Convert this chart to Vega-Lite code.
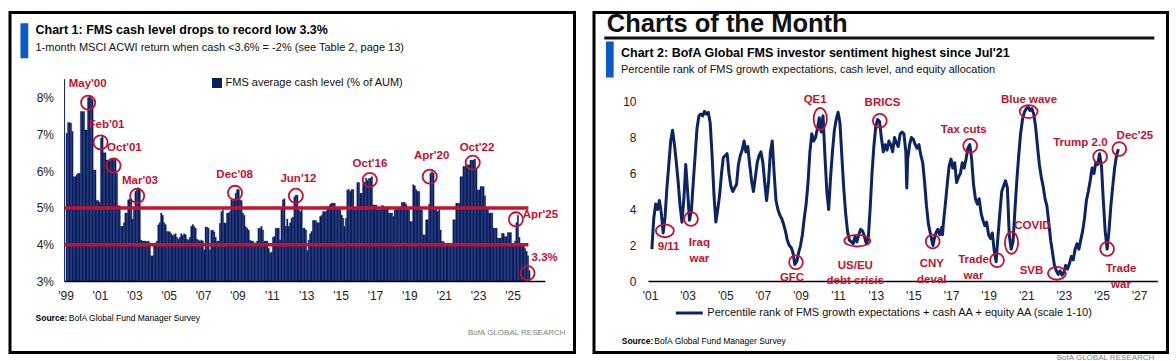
{
  "$schema": "https://vega.github.io/schema/vega-lite/v6.json",
  "background": "white",
  "padding": {"left": 8, "top": 9.5, "right": 0, "bottom": 0},
  "spacing": 19,
  "bounds": "flush",
  "resolve": {"scale": {"color": "independent"}, "legend": {"color": "independent"}},
  "config": {
    "view": {"stroke": "#000", "strokeWidth": 3},
    "axis": {"grid": false, "ticks": false, "domain": false, "labelFont": "Liberation Sans, Arial, sans-serif", "labelFontSize": 12, "labelColor": "#222"},
    "legend": {"labelFont": "Liberation Sans, Arial, sans-serif", "labelFontSize": 11, "labelColor": "#111", "labelLimit": 600},
    "text": {"font": "Liberation Sans, Arial, sans-serif"}
  },
  "datasets": {
    "cash": [
      {"d":"1999-01","v":7.03},{"d":"1999-02","v":7.32},{"d":"1999-03","v":7.32},{"d":"1999-04","v":7.3},{"d":"1999-05","v":7.08},{"d":"1999-06","v":5.85},{"d":"1999-07","v":5.85},{"d":"1999-08","v":5.9},{"d":"1999-09","v":5.94},{"d":"1999-10","v":5.94},{"d":"1999-11","v":7.62},{"d":"1999-12","v":7.62},
      {"d":"2000-01","v":7.62},{"d":"2000-02","v":7.12},{"d":"2000-03","v":7.12},{"d":"2000-04","v":8.0},{"d":"2000-05","v":8.05},{"d":"2000-06","v":8.0},{"d":"2000-07","v":7.95},{"d":"2000-08","v":6.03},{"d":"2000-09","v":6.03},{"d":"2000-10","v":5.2},{"d":"2000-11","v":5.2},{"d":"2000-12","v":5.15},
      {"d":"2001-01","v":6.9},{"d":"2001-02","v":6.95},{"d":"2001-03","v":6.5},{"d":"2001-04","v":6.5},{"d":"2001-05","v":6.3},{"d":"2001-06","v":6.3},{"d":"2001-07","v":6.28},{"d":"2001-08","v":6.3},{"d":"2001-09","v":6.32},{"d":"2001-10","v":6.35},{"d":"2001-11","v":6.3},{"d":"2001-12","v":5.94},
      {"d":"2002-01","v":5.06},{"d":"2002-02","v":5.06},{"d":"2002-03","v":4.5},{"d":"2002-04","v":4.5},{"d":"2002-05","v":4.6},{"d":"2002-06","v":4.86},{"d":"2002-07","v":4.86},{"d":"2002-08","v":5.22},{"d":"2002-09","v":5.25},{"d":"2002-10","v":5.22},{"d":"2002-11","v":4.7},{"d":"2002-12","v":4.95},
      {"d":"2003-01","v":5.45},{"d":"2003-02","v":5.5},{"d":"2003-03","v":5.55},{"d":"2003-04","v":5.5},{"d":"2003-05","v":4.13},{"d":"2003-06","v":4.1},{"d":"2003-07","v":4.1},{"d":"2003-08","v":4.1},{"d":"2003-09","v":4.08},{"d":"2003-10","v":4.1},{"d":"2003-11","v":4.05},{"d":"2003-12","v":3.7},
      {"d":"2004-01","v":3.7},{"d":"2004-02","v":4.0},{"d":"2004-03","v":4.05},{"d":"2004-04","v":4.1},{"d":"2004-05","v":4.54},{"d":"2004-06","v":4.6},{"d":"2004-07","v":4.86},{"d":"2004-08","v":4.8},{"d":"2004-09","v":4.6},{"d":"2004-10","v":4.55},{"d":"2004-11","v":4.36},{"d":"2004-12","v":4.36},
      {"d":"2005-01","v":4.35},{"d":"2005-02","v":4.3},{"d":"2005-03","v":4.25},{"d":"2005-04","v":4.27},{"d":"2005-05","v":4.3},{"d":"2005-06","v":4.2},{"d":"2005-07","v":4.15},{"d":"2005-08","v":4.2},{"d":"2005-09","v":4.3},{"d":"2005-10","v":4.25},{"d":"2005-11","v":4.3},{"d":"2005-12","v":4.27},
      {"d":"2006-01","v":4.15},{"d":"2006-02","v":4.13},{"d":"2006-03","v":4.2},{"d":"2006-04","v":4.5},{"d":"2006-05","v":4.55},{"d":"2006-06","v":4.5},{"d":"2006-07","v":4.45},{"d":"2006-08","v":4.15},{"d":"2006-09","v":4.13},{"d":"2006-10","v":4.1},{"d":"2006-11","v":4.13},{"d":"2006-12","v":4.1},
      {"d":"2007-01","v":3.86},{"d":"2007-02","v":4.48},{"d":"2007-03","v":4.48},{"d":"2007-04","v":4.45},{"d":"2007-05","v":3.86},{"d":"2007-06","v":4.39},{"d":"2007-07","v":4.4},{"d":"2007-08","v":4.35},{"d":"2007-09","v":4.2},{"d":"2007-10","v":4.09},{"d":"2007-11","v":4.1},{"d":"2007-12","v":4.58},
      {"d":"2008-01","v":4.9},{"d":"2008-02","v":4.95},{"d":"2008-03","v":4.6},{"d":"2008-04","v":4.58},{"d":"2008-05","v":4.86},{"d":"2008-06","v":4.86},{"d":"2008-07","v":4.9},{"d":"2008-08","v":5.22},{"d":"2008-09","v":5.2},{"d":"2008-10","v":5.25},{"d":"2008-11","v":5.4},{"d":"2008-12","v":5.5},
      {"d":"2009-01","v":5.5},{"d":"2009-02","v":5.22},{"d":"2009-03","v":5.2},{"d":"2009-04","v":4.86},{"d":"2009-05","v":4.8},{"d":"2009-06","v":4.49},{"d":"2009-07","v":4.45},{"d":"2009-08","v":4.4},{"d":"2009-09","v":4.13},{"d":"2009-10","v":4.1},{"d":"2009-11","v":4.1},{"d":"2009-12","v":4.05},
      {"d":"2010-01","v":4.05},{"d":"2010-02","v":4.1},{"d":"2010-03","v":4.45},{"d":"2010-04","v":4.45},{"d":"2010-05","v":4.5},{"d":"2010-06","v":4.4},{"d":"2010-07","v":4.1},{"d":"2010-08","v":4.1},{"d":"2010-09","v":4.1},{"d":"2010-10","v":3.9},{"d":"2010-11","v":3.78},{"d":"2010-12","v":3.8},
      {"d":"2011-01","v":4.2},{"d":"2011-02","v":4.22},{"d":"2011-03","v":4.45},{"d":"2011-04","v":4.45},{"d":"2011-05","v":4.45},{"d":"2011-06","v":4.13},{"d":"2011-07","v":5.0},{"d":"2011-08","v":5.22},{"d":"2011-09","v":5.25},{"d":"2011-10","v":4.5},{"d":"2011-11","v":4.7},{"d":"2011-12","v":4.5},
      {"d":"2012-01","v":4.6},{"d":"2012-02","v":4.72},{"d":"2012-03","v":4.75},{"d":"2012-04","v":5.3},{"d":"2012-05","v":5.35},{"d":"2012-06","v":5.35},{"d":"2012-07","v":4.95},{"d":"2012-08","v":4.9},{"d":"2012-09","v":4.95},{"d":"2012-10","v":4.45},{"d":"2012-11","v":4.45},{"d":"2012-12","v":4.4},
      {"d":"2013-01","v":3.85},{"d":"2013-02","v":4.13},{"d":"2013-03","v":4.3},{"d":"2013-04","v":4.36},{"d":"2013-05","v":4.66},{"d":"2013-06","v":4.66},{"d":"2013-07","v":4.66},{"d":"2013-08","v":4.6},{"d":"2013-09","v":4.6},{"d":"2013-10","v":4.77},{"d":"2013-11","v":4.8},{"d":"2013-12","v":4.9},
      {"d":"2014-01","v":4.9},{"d":"2014-02","v":4.9},{"d":"2014-03","v":5.04},{"d":"2014-04","v":5.04},{"d":"2014-05","v":5.1},{"d":"2014-06","v":5.13},{"d":"2014-07","v":5.13},{"d":"2014-08","v":5.13},{"d":"2014-09","v":5.0},{"d":"2014-10","v":4.99},{"d":"2014-11","v":4.95},{"d":"2014-12","v":5.0},
      {"d":"2015-01","v":4.8},{"d":"2015-02","v":4.72},{"d":"2015-03","v":4.5},{"d":"2015-04","v":4.72},{"d":"2015-05","v":5.49},{"d":"2015-06","v":5.5},{"d":"2015-07","v":5.45},{"d":"2015-08","v":5.5},{"d":"2015-09","v":5.5},{"d":"2015-10","v":4.95},{"d":"2015-11","v":4.95},{"d":"2015-12","v":5.69},
      {"d":"2016-01","v":5.69},{"d":"2016-02","v":5.4},{"d":"2016-03","v":5.4},{"d":"2016-04","v":5.67},{"d":"2016-05","v":5.7},{"d":"2016-06","v":5.81},{"d":"2016-07","v":5.75},{"d":"2016-08","v":5.8},{"d":"2016-09","v":5.81},{"d":"2016-10","v":5.85},{"d":"2016-11","v":5.08},{"d":"2016-12","v":5.08},
      {"d":"2017-01","v":5.08},{"d":"2017-02","v":4.95},{"d":"2017-03","v":4.95},{"d":"2017-04","v":4.95},{"d":"2017-05","v":5.06},{"d":"2017-06","v":5.06},{"d":"2017-07","v":4.97},{"d":"2017-08","v":4.97},{"d":"2017-09","v":4.97},{"d":"2017-10","v":4.86},{"d":"2017-11","v":4.86},{"d":"2017-12","v":4.86},
      {"d":"2018-01","v":4.77},{"d":"2018-02","v":4.95},{"d":"2018-03","v":4.95},{"d":"2018-04","v":5.0},{"d":"2018-05","v":5.0},{"d":"2018-06","v":5.0},{"d":"2018-07","v":5.15},{"d":"2018-08","v":5.15},{"d":"2018-09","v":5.15},{"d":"2018-10","v":5.1},{"d":"2018-11","v":4.95},{"d":"2018-12","v":4.95},
      {"d":"2019-01","v":4.63},{"d":"2019-02","v":4.63},{"d":"2019-03","v":5.63},{"d":"2019-04","v":5.6},{"d":"2019-05","v":5.5},{"d":"2019-06","v":5.45},{"d":"2019-07","v":5.45},{"d":"2019-08","v":4.95},{"d":"2019-09","v":4.95},{"d":"2019-10","v":4.27},{"d":"2019-11","v":4.27},{"d":"2019-12","v":4.68},
      {"d":"2020-01","v":4.68},{"d":"2020-02","v":5.1},{"d":"2020-03","v":5.94},{"d":"2020-04","v":5.99},{"d":"2020-05","v":5.95},{"d":"2020-06","v":4.95},{"d":"2020-07","v":4.95},{"d":"2020-08","v":4.9},{"d":"2020-09","v":4.95},{"d":"2020-10","v":4.4},{"d":"2020-11","v":4.09},{"d":"2020-12","v":4.09},
      {"d":"2021-01","v":4.04},{"d":"2021-02","v":4.04},{"d":"2021-03","v":4.04},{"d":"2021-04","v":4.04},{"d":"2021-05","v":4.04},{"d":"2021-06","v":4.04},{"d":"2021-07","v":4.68},{"d":"2021-08","v":4.68},{"d":"2021-09","v":5.13},{"d":"2021-10","v":5.13},{"d":"2021-11","v":5.13},{"d":"2021-12","v":5.85},
      {"d":"2022-01","v":5.85},{"d":"2022-02","v":6.13},{"d":"2022-03","v":6.13},{"d":"2022-04","v":6.17},{"d":"2022-05","v":6.17},{"d":"2022-06","v":6.17},{"d":"2022-07","v":6.3},{"d":"2022-08","v":6.3},{"d":"2022-09","v":6.3},{"d":"2022-10","v":6.33},{"d":"2022-11","v":6.08},{"d":"2022-12","v":5.49},
      {"d":"2023-01","v":5.49},{"d":"2023-02","v":5.58},{"d":"2023-03","v":5.58},{"d":"2023-04","v":5.58},{"d":"2023-05","v":5.33},{"d":"2023-06","v":4.99},{"d":"2023-07","v":4.99},{"d":"2023-08","v":4.86},{"d":"2023-09","v":4.86},{"d":"2023-10","v":4.86},{"d":"2023-11","v":4.45},{"d":"2023-12","v":4.45},
      {"d":"2024-01","v":4.45},{"d":"2024-02","v":4.18},{"d":"2024-03","v":4.18},{"d":"2024-04","v":4.18},{"d":"2024-05","v":4.31},{"d":"2024-06","v":4.31},{"d":"2024-07","v":4.22},{"d":"2024-08","v":4.22},{"d":"2024-09","v":4.33},{"d":"2024-10","v":4.33},{"d":"2024-11","v":4.33},{"d":"2024-12","v":4.04},
      {"d":"2025-01","v":4.04},{"d":"2025-02","v":4.1},{"d":"2025-03","v":4.6},{"d":"2025-04","v":4.8},{"d":"2025-05","v":4.2},{"d":"2025-06","v":4.04},{"d":"2025-07","v":3.99},{"d":"2025-08","v":3.99},{"d":"2025-09","v":3.9},{"d":"2025-10","v":3.82},{"d":"2025-11","v":3.7},{"d":"2025-12","v":3.3}
    ],
    "ann1": [
      {"label":"May'00","d":"2000-04-25","v":7.86,"ld":"2000-04-15","lv":8.38},
      {"label":"Feb'01","d":"2001-01-15","v":6.78,"ld":"2001-05-21","lv":7.24},
      {"label":"Oct'01","d":"2001-10-16","v":6.15,"ld":"2002-06-05","lv":6.64},
      {"label":"Mar'03","d":"2003-03-03","v":5.33,"ld":"2003-05-01","lv":5.74},
      {"label":"Dec'08","d":"2008-11-10","v":5.41,"ld":"2008-11-03","lv":5.9},
      {"label":"Jun'12","d":"2012-05-26","v":5.33,"ld":"2012-07-20","lv":5.79},
      {"label":"Oct'16","d":"2016-09-13","v":5.76,"ld":"2016-09-16","lv":6.2},
      {"label":"Apr'20","d":"2020-03-10","v":5.85,"ld":"2020-04-20","lv":6.4},
      {"label":"Oct'22","d":"2022-09-09","v":6.23,"ld":"2022-12-09","lv":6.64},
      {"label":"Apr'25","d":"2025-03-15","v":4.69,"ld":"2026-08-18","lv":4.81},
      {"label":"3.3%","d":"2025-11-17","v":3.23,"ld":"2026-11-17","lv":3.65}
    ],
    "sent": [
      {"d":"2001-02-06","v":1.8},{"d":"2001-03-14","v":3.5},{"d":"2001-04-20","v":4.3},{"d":"2001-05-27","v":4.0},{"d":"2001-07-02","v":4.5},{"d":"2001-08-08","v":3.8},{"d":"2001-09-13","v":2.7},{"d":"2001-10-20","v":3.6},{"d":"2001-11-25","v":5.2},
      {"d":"2002-01-01","v":6.5},{"d":"2002-02-06","v":7.8},{"d":"2002-03-14","v":8.4},{"d":"2002-04-20","v":7.6},{"d":"2002-05-27","v":6.6},{"d":"2002-07-02","v":5.5},{"d":"2002-08-08","v":4.2},{"d":"2002-09-13","v":3.3},{"d":"2002-10-20","v":4.6},{"d":"2002-11-25","v":6.5},
      {"d":"2003-01-01","v":5.0},{"d":"2003-02-06","v":3.4},{"d":"2003-03-14","v":3.9},{"d":"2003-04-20","v":5.5},{"d":"2003-05-27","v":7.0},{"d":"2003-07-02","v":8.5},{"d":"2003-08-08","v":9.2},{"d":"2003-09-13","v":9.3},{"d":"2003-10-20","v":9.2},{"d":"2003-11-25","v":9.45},
      {"d":"2004-01-01","v":9.3},{"d":"2004-02-06","v":9.4},{"d":"2004-03-14","v":8.8},{"d":"2004-04-20","v":7.0},{"d":"2004-05-27","v":4.8},{"d":"2004-07-02","v":3.3},{"d":"2004-08-08","v":4.0},{"d":"2004-09-13","v":4.8},{"d":"2004-10-20","v":6.0},{"d":"2004-11-25","v":6.9},
      {"d":"2005-01-01","v":7.0},{"d":"2005-02-06","v":7.1},{"d":"2005-03-14","v":6.0},{"d":"2005-04-20","v":5.3},{"d":"2005-05-27","v":5.0},{"d":"2005-07-02","v":5.2},{"d":"2005-08-08","v":5.4},{"d":"2005-09-13","v":6.5},{"d":"2005-10-20","v":7.0},{"d":"2005-11-25","v":7.3},
      {"d":"2006-01-01","v":7.8},{"d":"2006-02-06","v":7.2},{"d":"2006-03-14","v":7.5},{"d":"2006-04-20","v":6.5},{"d":"2006-05-27","v":5.6},{"d":"2006-07-02","v":5.0},{"d":"2006-08-08","v":5.8},{"d":"2006-09-13","v":6.6},{"d":"2006-10-20","v":7.0},{"d":"2006-11-25","v":7.2},
      {"d":"2007-01-01","v":6.6},{"d":"2007-02-06","v":5.5},{"d":"2007-03-14","v":4.5},{"d":"2007-04-20","v":5.5},{"d":"2007-05-27","v":7.2},{"d":"2007-07-02","v":7.8},{"d":"2007-08-08","v":6.0},{"d":"2007-09-13","v":4.5},{"d":"2007-10-20","v":4.0},{"d":"2007-11-25","v":3.7},
      {"d":"2008-01-01","v":3.5},{"d":"2008-02-06","v":3.2},{"d":"2008-03-14","v":2.8},{"d":"2008-04-20","v":2.3},{"d":"2008-05-27","v":2.0},{"d":"2008-07-02","v":1.9},{"d":"2008-08-08","v":1.6},{"d":"2008-09-13","v":0.95},{"d":"2008-10-20","v":1.1},{"d":"2008-11-25","v":1.6},
      {"d":"2009-01-01","v":2.0},{"d":"2009-02-06","v":2.6},{"d":"2009-03-14","v":3.5},{"d":"2009-04-20","v":4.3},{"d":"2009-05-27","v":5.5},{"d":"2009-07-02","v":7.2},{"d":"2009-08-08","v":8.2},{"d":"2009-09-13","v":7.8},{"d":"2009-10-20","v":8.0},{"d":"2009-11-25","v":8.5},
      {"d":"2010-01-01","v":9.1},{"d":"2010-02-06","v":8.3},{"d":"2010-03-14","v":9.2},{"d":"2010-04-20","v":7.0},{"d":"2010-05-27","v":5.0},{"d":"2010-07-02","v":4.0},{"d":"2010-08-08","v":5.8},{"d":"2010-09-13","v":7.2},{"d":"2010-10-20","v":8.4},{"d":"2010-11-25","v":9.0},
      {"d":"2011-01-01","v":9.4},{"d":"2011-02-06","v":8.8},{"d":"2011-03-14","v":7.0},{"d":"2011-04-20","v":5.2},{"d":"2011-05-27","v":3.8},{"d":"2011-07-02","v":2.8},{"d":"2011-08-08","v":2.3},{"d":"2011-09-13","v":2.2},{"d":"2011-10-20","v":2.1},{"d":"2011-11-25","v":2.5},
      {"d":"2012-01-01","v":2.2},{"d":"2012-02-06","v":2.6},{"d":"2012-03-14","v":2.9},{"d":"2012-04-20","v":2.8},{"d":"2012-05-27","v":2.5},{"d":"2012-07-02","v":2.1},{"d":"2012-08-08","v":2.4},{"d":"2012-09-13","v":4.0},{"d":"2012-10-20","v":6.0},{"d":"2012-11-25","v":7.5},
      {"d":"2013-01-01","v":8.6},{"d":"2013-02-06","v":9.0},{"d":"2013-03-14","v":8.9},{"d":"2013-04-20","v":8.0},{"d":"2013-05-27","v":7.2},{"d":"2013-07-02","v":7.6},{"d":"2013-08-08","v":7.3},{"d":"2013-09-13","v":7.8},{"d":"2013-10-20","v":7.6},{"d":"2013-11-25","v":7.2},
      {"d":"2014-01-01","v":8.0},{"d":"2014-02-06","v":7.7},{"d":"2014-03-14","v":7.5},{"d":"2014-04-20","v":8.2},{"d":"2014-05-27","v":8.3},{"d":"2014-07-02","v":8.2},{"d":"2014-08-08","v":7.2},{"d":"2014-08-26","v":5.2},{"d":"2014-09-13","v":6.8},{"d":"2014-10-20","v":7.6},{"d":"2014-11-25","v":8.0},
      {"d":"2015-01-01","v":7.9},{"d":"2015-02-06","v":7.6},{"d":"2015-03-14","v":7.4},{"d":"2015-04-20","v":7.6},{"d":"2015-05-27","v":7.0},{"d":"2015-07-02","v":6.6},{"d":"2015-08-08","v":5.5},{"d":"2015-09-13","v":4.2},{"d":"2015-10-20","v":3.2},{"d":"2015-11-25","v":2.7},
      {"d":"2016-01-01","v":2.2},{"d":"2016-01-19","v":2.0},{"d":"2016-02-06","v":2.3},{"d":"2016-03-14","v":2.7},{"d":"2016-04-20","v":2.9},{"d":"2016-05-27","v":2.6},{"d":"2016-07-02","v":3.0},{"d":"2016-07-20","v":2.6},{"d":"2016-08-08","v":3.3},{"d":"2016-09-13","v":4.3},{"d":"2016-10-20","v":5.4},{"d":"2016-11-25","v":6.4},
      {"d":"2017-01-01","v":6.8},{"d":"2017-02-06","v":6.3},{"d":"2017-03-14","v":6.6},{"d":"2017-04-20","v":5.5},{"d":"2017-05-27","v":5.8},{"d":"2017-07-02","v":6.0},{"d":"2017-08-08","v":6.6},{"d":"2017-09-13","v":6.3},{"d":"2017-10-20","v":6.8},{"d":"2017-11-25","v":7.4},
      {"d":"2018-01-01","v":7.6},{"d":"2018-02-06","v":6.8},{"d":"2018-03-14","v":5.4},{"d":"2018-04-20","v":4.6},{"d":"2018-05-27","v":4.3},{"d":"2018-07-02","v":4.6},{"d":"2018-08-08","v":3.8},{"d":"2018-09-13","v":3.4},{"d":"2018-10-20","v":3.1},{"d":"2018-11-25","v":3.3},
      {"d":"2019-01-01","v":2.6},{"d":"2019-02-06","v":2.4},{"d":"2019-03-14","v":2.7},{"d":"2019-04-20","v":1.7},{"d":"2019-05-27","v":1.1},{"d":"2019-07-02","v":2.5},{"d":"2019-08-08","v":3.8},{"d":"2019-09-13","v":5.0},{"d":"2019-10-20","v":5.3},{"d":"2019-11-25","v":5.6},
      {"d":"2020-01-01","v":5.2},{"d":"2020-02-06","v":2.6},{"d":"2020-03-14","v":1.8},{"d":"2020-04-20","v":2.2},{"d":"2020-05-27","v":4.0},{"d":"2020-07-02","v":5.6},{"d":"2020-08-08","v":7.0},{"d":"2020-09-13","v":8.2},{"d":"2020-10-20","v":9.0},{"d":"2020-11-25","v":9.4},
      {"d":"2021-01-01","v":9.6},{"d":"2021-02-06","v":9.7},{"d":"2021-03-14","v":9.5},{"d":"2021-04-20","v":9.6},{"d":"2021-05-27","v":9.3},{"d":"2021-07-02","v":8.6},{"d":"2021-08-08","v":7.5},{"d":"2021-09-13","v":6.5},{"d":"2021-10-20","v":5.8},{"d":"2021-11-25","v":5.3},
      {"d":"2022-01-01","v":4.6},{"d":"2022-02-06","v":4.2},{"d":"2022-03-14","v":3.3},{"d":"2022-04-20","v":2.3},{"d":"2022-05-27","v":1.6},{"d":"2022-07-02","v":0.9},{"d":"2022-08-08","v":0.6},{"d":"2022-09-13","v":0.4},{"d":"2022-10-20","v":0.6},{"d":"2022-11-25","v":0.35},
      {"d":"2023-01-01","v":0.5},{"d":"2023-02-06","v":0.9},{"d":"2023-03-14","v":0.7},{"d":"2023-04-20","v":1.0},{"d":"2023-05-27","v":1.4},{"d":"2023-07-02","v":1.2},{"d":"2023-08-08","v":1.8},{"d":"2023-09-13","v":2.1},{"d":"2023-10-20","v":1.8},{"d":"2023-11-25","v":2.3},
      {"d":"2024-01-01","v":2.8},{"d":"2024-02-06","v":3.5},{"d":"2024-03-14","v":4.5},{"d":"2024-04-20","v":5.0},{"d":"2024-05-27","v":5.6},{"d":"2024-07-02","v":6.3},{"d":"2024-08-08","v":6.0},{"d":"2024-09-13","v":6.6},{"d":"2024-10-20","v":6.5},{"d":"2024-11-25","v":7.1},
      {"d":"2025-01-01","v":6.4},{"d":"2025-02-06","v":4.5},{"d":"2025-03-14","v":2.8},{"d":"2025-04-20","v":1.8},{"d":"2025-05-27","v":2.8},{"d":"2025-07-02","v":4.2},{"d":"2025-08-08","v":5.3},{"d":"2025-09-13","v":6.3},{"d":"2025-10-20","v":7.0},{"d":"2025-11-25","v":7.35}
    ],
    "ann2": [
      {"label":"9/11","d":"2001-10-16","v":2.82,"ld":"2001-12-28","lv":1.94},
      {"label":"Iraq\nwar","d":"2003-03-07","v":3.47,"ld":"2003-08-18","lv":2.13},
      {"label":"GFC","d":"2008-10-05","v":1.07,"ld":"2008-07-20","lv":0.22},
      {"label":"US/EU\ndebt crisis","d":"2012-01-08","v":2.27,"ld":"2011-12-02","lv":0.88},
      {"label":"QE1","d":"2010-01-19","v":9.03,"ld":"2009-10-12","lv":10.06},
      {"label":"BRICS","d":"2013-03-21","v":8.93,"ld":"2013-05-12","lv":9.94},
      {"label":"CNY\ndeval","d":"2016-01-12","v":2.22,"ld":"2015-12-25","lv":0.96},
      {"label":"Tax cuts","d":"2018-01-08","v":7.54,"ld":"2017-09-06","lv":8.39},
      {"label":"Trade\nwar","d":"2019-06-14","v":1.18,"ld":"2018-03-14","lv":1.19},
      {"label":"COVID","d":"2020-03-21","v":2.15,"ld":"2021-05-01","lv":3.06},
      {"label":"Blue wave","d":"2021-02-17","v":9.44,"ld":"2021-02-24","lv":10.09},
      {"label":"SVB","d":"2022-08-19","v":0.46,"ld":"2021-04-13","lv":0.56},
      {"label":"Trump 2.0","d":"2024-12-06","v":6.93,"ld":"2023-11-18","lv":7.72},
      {"label":"Trade\nwar","d":"2025-04-20","v":1.81,"ld":"2026-01-15","lv":0.67},
      {"label":"Dec'25","d":"2025-12-13","v":7.36,"ld":"2026-10-12","lv":8.09}
    ]
  },
  "hconcat": [
    {
      "width": 564.5,
      "height": 340,
      "title": {
        "text": "Chart 1: FMS cash level drops to record low 3.3%",
        "subtitle": "1-month MSCI ACWI return when cash <3.6% = -2% (see Table 2, page 13)",
        "anchor": "start", "frame": "group", "offset": -40.5, "dx": 25.5,
        "font": "Liberation Sans, Arial, sans-serif", "fontSize": 12.5, "fontWeight": "bold", "color": "#000",
        "subtitleFont": "Liberation Sans, Arial, sans-serif", "subtitleFontSize": 11, "subtitleColor": "#111", "subtitlePadding": 5.5
      },
      "layer": [
        {
          "data": {"name": "cash"},
          "mark": {"type": "bar", "binSpacing": 0, "stroke": "#0a1f62", "strokeWidth": 0.3},
          "encoding": {
            "x": {"field": "d", "timeUnit": "utcyearmonth", "type": "temporal", "title": null,
              "scale": {"type": "utc", "domain": [{"year": 1995, "month": 10, "date": 9, "utc": true}, {"year": 2028, "month": 8, "date": 11, "utc": true}]},
              "axis": {"values": [{"year":1999,"utc":true},{"year":2001,"utc":true},{"year":2003,"utc":true},{"year":2005,"utc":true},{"year":2007,"utc":true},{"year":2009,"utc":true},{"year":2011,"utc":true},{"year":2013,"utc":true},{"year":2015,"utc":true},{"year":2017,"utc":true},{"year":2019,"utc":true},{"year":2021,"utc":true},{"year":2023,"utc":true},{"year":2025,"utc":true}],
                "format": "'%y", "offset": -71, "labelPadding": 9}},
            "y": {"field": "v", "type": "quantitative", "title": null,
              "scale": {"domain": [1.071, 10.31], "nice": false, "zero": false},
              "axis": {"values": [3, 4, 5, 6, 7, 8], "labelExpr": "datum.value + '%'", "offset": -43.5, "labelPadding": 0}},
            "y2": {"datum": 3},
            "color": {"datum": "FMS average cash level (% of AUM)", "scale": {"range": ["#0a1f62"]},
              "legend": {"orient": "none", "legendX": 201.5, "legendY": 65, "title": null, "symbolType": "square", "symbolSize": 100, "symbolStrokeWidth": 0, "labelOffset": 3}}
          }
        },
        {
          "data": {"values": [{}]},
          "mark": {"type": "rule", "color": "#0a1f62", "strokeWidth": 1},
          "encoding": {
            "x": {"datum": {"year": 1998, "month": 12, "date": 12, "utc": true}},
            "y": {"datum": 3}, "y2": {"datum": 8.5}
          }
        },
        {
          "data": {"values": [{"level": 5}, {"level": 4}]},
          "mark": {"type": "rule", "color": "#c8102e", "strokeWidth": 3.5},
          "encoding": {
            "x": {"datum": {"year": 1998, "month": 12, "date": 10, "utc": true}},
            "x2": {"datum": {"year": 2025, "month": 12, "date": 5, "utc": true}},
            "y": {"field": "level", "type": "quantitative", "title": null}
          }
        },
        {
          "data": {"values": [{}]},
          "mark": {"type": "rule", "color": "#000", "strokeWidth": 1.5},
          "encoding": {
            "x": {"datum": {"year": 1998, "month": 12, "date": 10, "utc": true}},
            "x2": {"datum": {"year": 2026, "month": 12, "date": 1, "utc": true}},
            "y": {"datum": 3}
          }
        },
        {
          "data": {"name": "ann1"},
          "mark": {"type": "point", "filled": false, "stroke": "#c8102e", "strokeWidth": 1.8, "size": 200, "opacity": 1},
          "encoding": {
            "x": {"field": "d", "type": "temporal", "title": null},
            "y": {"field": "v", "type": "quantitative", "title": null}
          }
        },
        {
          "data": {"name": "ann1"},
          "mark": {"type": "text", "fontSize": 11.5, "fontWeight": "bold", "color": "#c8102e", "align": "center", "baseline": "middle"},
          "encoding": {
            "x": {"field": "ld", "type": "temporal", "title": null},
            "y": {"field": "lv", "type": "quantitative", "title": null},
            "text": {"field": "label"}
          }
        },
        {
          "data": {"values": [{}]},
          "mark": {"type": "rect", "color": "#0a5ac8"},
          "encoding": {
            "x": {"datum": {"year": 1996, "month": 5, "date": 19, "utc": true}},
            "x2": {"datum": {"year": 1996, "month": 10, "date": 31, "utc": true}},
            "y": {"datum": 10.02}, "y2": {"datum": 9.07}
          }
        },
        {
          "data": {"values": [{}]},
          "mark": {"type": "text", "text": "Source:", "fontSize": 8.5, "fontWeight": "bold", "color": "#000", "align": "left", "baseline": "middle"},
          "encoding": {"x": {"datum": {"year": 1997, "month": 4, "date": 4, "utc": true}}, "y": {"datum": 2.0}}
        },
        {
          "data": {"values": [{}]},
          "mark": {"type": "text", "text": "BofA Global Fund Manager Survey", "fontSize": 8.5, "color": "#000", "align": "left", "baseline": "middle"},
          "encoding": {"x": {"datum": {"year": 1999, "month": 3, "date": 10, "utc": true}}, "y": {"datum": 2.0}}
        },
        {
          "data": {"values": [{}]},
          "mark": {"type": "text", "text": "BofA GLOBAL RESEARCH", "fontSize": 8, "color": "#7f7f7f", "align": "right", "baseline": "middle"},
          "encoding": {"x": {"datum": {"year": 2028, "month": 2, "date": 3, "utc": true}}, "y": {"datum": 1.614}}
        }
      ]
    },
    {
      "width": 573.5,
      "height": 340,
      "title": {
        "text": "Chart 2: BofA Global FMS investor sentiment highest since Jul'21",
        "subtitle": "Percentile rank of FMS growth expectations, cash level, and equity allocation",
        "anchor": "start", "frame": "group", "offset": -63, "dx": 27,
        "font": "Liberation Sans, Arial, sans-serif", "fontSize": 12.5, "fontWeight": "bold", "color": "#000",
        "subtitleFont": "Liberation Sans, Arial, sans-serif", "subtitleFontSize": 11, "subtitleColor": "#111", "subtitlePadding": 4.5
      },
      "layer": [
        {
          "data": {"name": "sent"},
          "mark": {"type": "line", "strokeWidth": 3, "strokeJoin": "round"},
          "encoding": {
            "x": {"field": "d", "type": "temporal", "title": null,
              "scale": {"type": "utc", "domain": [{"year": 1998, "month": 1, "date": 9, "utc": true}, {"year": 2028, "month": 7, "date": 6, "utc": true}]},
              "axis": {"values": [{"year":2001,"utc":true},{"year":2003,"utc":true},{"year":2005,"utc":true},{"year":2007,"utc":true},{"year":2009,"utc":true},{"year":2011,"utc":true},{"year":2013,"utc":true},{"year":2015,"utc":true},{"year":2017,"utc":true},{"year":2019,"utc":true},{"year":2021,"utc":true},{"year":2023,"utc":true},{"year":2025,"utc":true},{"year":2027,"utc":true}],
                "format": "'%y", "offset": -71, "labelPadding": 9}},
            "y": {"field": "v", "type": "quantitative", "title": null,
              "scale": {"domain": [-3.94, 14.94], "nice": false, "zero": false},
              "axis": {"values": [0, 1, 2, 3, 4, 5, 6, 7, 8, 9, 10], "offset": -42, "labelPadding": 0}},
            "color": {"datum": "Percentile rank of FMS growth expectations + cash AA + equity AA (scale 1-10)", "scale": {"range": ["#0d2463"]},
              "legend": {"orient": "none", "legendX": 80.3, "legendY": 285.5, "title": null, "symbolType": "stroke", "symbolSize": 729, "symbolStrokeWidth": 3, "labelOffset": 3}}
          }
        },
        {
          "data": {"values": [{}]},
          "mark": {"type": "rule", "color": "#000", "strokeWidth": 1.5},
          "encoding": {
            "x": {"datum": {"year": 2000, "month": 12, "date": 1, "utc": true}},
            "x2": {"datum": {"year": 2028, "month": 1, "date": 1, "utc": true}},
            "y": {"datum": 0}
          }
        },
        {
          "data": {"name": "ann2"},
          "transform": [{"filter": {"not": {"field": "label", "oneOf": ["9/11", "SVB", "Blue wave", "US/EU\ndebt crisis", "QE1", "COVID"]}}}],
          "mark": {"type": "point", "filled": false, "stroke": "#c8102e", "strokeWidth": 1.8, "size": 190, "opacity": 1},
          "encoding": {"x": {"field": "d", "type": "temporal", "title": null}, "y": {"field": "v", "type": "quantitative", "title": null}}
        },
        {
          "data": {"name": "ann2"},
          "transform": [{"filter": {"field": "label", "oneOf": ["9/11", "SVB", "Blue wave"]}}],
          "mark": {"type": "point", "shape": "M-1,0A1,0.72,0,1,1,1,0A1,0.72,0,1,1,-1,0Z", "filled": false, "stroke": "#c8102e", "strokeWidth": 1.8, "size": 324, "opacity": 1},
          "encoding": {"x": {"field": "d", "type": "temporal", "title": null}, "y": {"field": "v", "type": "quantitative", "title": null}}
        },
        {
          "data": {"name": "ann2"},
          "transform": [{"filter": {"field": "label", "oneOf": ["US/EU\ndebt crisis"]}}],
          "mark": {"type": "point", "shape": "M-1,0A1,0.45,0,1,1,1,0A1,0.45,0,1,1,-1,0Z", "filled": false, "stroke": "#c8102e", "strokeWidth": 1.8, "size": 676, "opacity": 1},
          "encoding": {"x": {"field": "d", "type": "temporal", "title": null}, "y": {"field": "v", "type": "quantitative", "title": null}}
        },
        {
          "data": {"name": "ann2"},
          "transform": [{"filter": {"field": "label", "oneOf": ["QE1", "COVID"]}}],
          "mark": {"type": "point", "shape": "M0,-1A0.6,1,0,1,1,0,1A0.6,1,0,1,1,0,-1Z", "filled": false, "stroke": "#c8102e", "strokeWidth": 1.8, "size": 484, "opacity": 1},
          "encoding": {"x": {"field": "d", "type": "temporal", "title": null}, "y": {"field": "v", "type": "quantitative", "title": null}}
        },
        {
          "data": {"name": "ann2"},
          "mark": {"type": "text", "fontSize": 11.5, "fontWeight": "bold", "color": "#c8102e", "align": "center", "baseline": "middle", "lineBreak": "\n", "lineHeight": 15.5},
          "encoding": {
            "x": {"field": "ld", "type": "temporal", "title": null},
            "y": {"field": "lv", "type": "quantitative", "title": null},
            "text": {"field": "label"}
          }
        },
        {
          "data": {"values": [{}]},
          "mark": {"type": "text", "text": "Charts of the Month", "fontSize": 25.5, "fontWeight": "bold", "color": "#111", "align": "left", "baseline": "alphabetic"},
          "encoding": {"x": {"datum": {"year": 1998, "month": 9, "date": 16, "utc": true}}, "y": {"datum": 13.87}}
        },
        {
          "data": {"values": [{}]},
          "mark": {"type": "rule", "color": "#111", "strokeWidth": 3},
          "encoding": {
            "x": {"datum": {"year": 1998, "month": 7, "date": 27, "utc": true}},
            "x2": {"datum": {"year": 2027, "month": 10, "date": 24, "utc": true}},
            "y": {"datum": 13.52}
          }
        },
        {
          "data": {"values": [{}]},
          "mark": {"type": "rect", "color": "#0a5ac8"},
          "encoding": {
            "x": {"datum": {"year": 1998, "month": 8, "date": 29, "utc": true}},
            "x2": {"datum": {"year": 1999, "month": 1, "date": 26, "utc": true}},
            "y": {"datum": 13.33}, "y2": {"datum": 11.33}
          }
        },
        {
          "data": {"values": [{}]},
          "mark": {"type": "text", "text": "Source:", "fontSize": 8.5, "fontWeight": "bold", "color": "#000", "align": "left", "baseline": "middle"},
          "encoding": {"x": {"datum": {"year": 1999, "month": 7, "date": 1, "utc": true}}, "y": {"datum": -3.29}}
        },
        {
          "data": {"values": [{}]},
          "mark": {"type": "text", "text": "BofA Global Fund Manager Survey", "fontSize": 8.5, "color": "#000", "align": "left", "baseline": "middle"},
          "encoding": {"x": {"datum": {"year": 2001, "month": 3, "date": 25, "utc": true}}, "y": {"datum": -3.29}}
        },
        {
          "data": {"values": [{}]},
          "mark": {"type": "text", "text": "BofA GLOBAL RESEARCH", "fontSize": 8, "color": "#7f7f7f", "align": "right", "baseline": "middle"},
          "encoding": {"x": {"datum": {"year": 2027, "month": 10, "date": 24, "utc": true}}, "y": {"datum": -4.22}}
        }
      ]
    }
  ]
}
